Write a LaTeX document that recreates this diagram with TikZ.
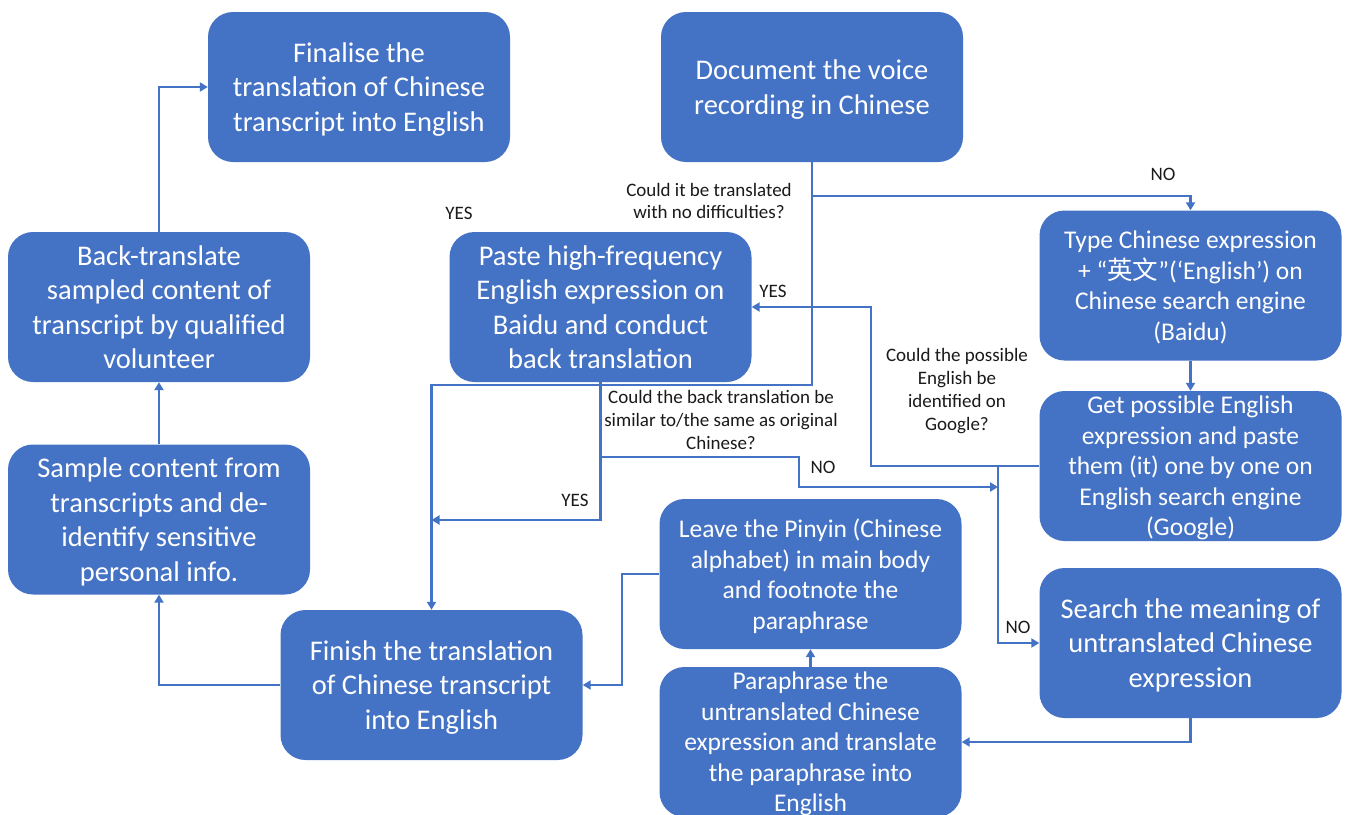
\documentclass[tikz,border=0pt]{standalone}
\usepackage{fontspec}
\setmainfont{Carlito}
\newfontfamily\cjk{Noto Sans CJK SC}
\usetikzlibrary{arrows.meta}
\definecolor{boxblue}{HTML}{4472C4}
\definecolor{labelgray}{HTML}{1A1A1A}
\tikzset{
  stepbox/.style={draw=none, fill=boxblue, rounded corners=25pt, text=white,
    minimum width=302pt, minimum height=150pt, align=center, inner sep=2pt,
    text depth=0pt, font=\fontsize{28.5}{34.5}\selectfont},
  smallbox/.style={stepbox, font=\fontsize{25.5}{30.5}\selectfont},
  flow/.style={draw=boxblue, line width=2.8pt,
    -{Triangle[length=8pt,width=9pt]}},
  qlabel/.style={text=labelgray, align=center, inner sep=0pt,
    font=\fontsize{19}{22.8}\selectfont},
}
\begin{document}
\begin{tikzpicture}[x=1pt,y=-1pt]
\clip (0,0) rectangle (1346,814);
\fill[white] (0,0) rectangle (1346,814);

% process boxes
\node[stepbox] (fin) at (359,87) {Finalise the\\translation of Chinese\\transcript into English};
\node[stepbox] (doc) at (812,87) {Document the voice\\recording in Chinese};
\node[stepbox] (back) at (159,307) {Back-translate\\sampled content of\\transcript by qualified\\volunteer};
\node[stepbox] (paste) at (600.5,307) {Paste high-frequency\\English expression on\\Baidu and conduct\\back translation};
\node[smallbox] (type) at (1190.5,285.5) {Type Chinese expression\\+ “{\cjk 英文}”(‘English’) on\\Chinese search engine\\(Baidu)};
\node[smallbox] (get) at (1190.5,466) {Get possible English\\expression and paste\\them (it) one by one on\\English search engine\\(Google)};
\node[stepbox] (samp) at (159,519.5) {Sample content from\\transcripts and de-\\identify sensitive\\personal info.};
\node[smallbox] (leave) at (810.5,574) {Leave the Pinyin (Chinese\\alphabet) in main body\\and footnote the\\paraphrase};
\node[stepbox] (search) at (1190.5,643) {Search the meaning of\\untranslated Chinese\\expression};
\node[stepbox] (finish) at (431.5,685) {Finish the translation\\of Chinese transcript\\into English};
\node[smallbox] (para) at (810.5,742) {Paraphrase the\\untranslated Chinese\\expression and translate\\the paraphrase into\\English};

% bend points of the connectors
\coordinate (noA) at (812,196);
\coordinate (yesA) at (812,385);
\coordinate (yesB) at (431.5,520);
\coordinate (noB1) at (600.5,457);
\coordinate (noB2) at (799,457);
\coordinate (noB3) at (799,487);
\coordinate (noB4) at (998,487);
\coordinate (yesC) at (871,466);
\coordinate (noC) at (998,466);
\coordinate (leaveBend) at (622,574);

% connectors
\draw[flow] (back.north) |- (fin.west);
\draw[flow] (samp.north) -- (back.south);
\draw[flow] (finish.west) -| (samp.south);
\draw[flow] (doc.south) -- (yesA) -| (finish.north);
\draw[flow] (noA) -| (type.north);
\draw[flow] (type.south) -- (get.north);
\draw[flow] (paste.south) |- (yesB);
\draw[flow] (noB1) -- (noB2) -- (noB3) -- (noB4);
\draw[flow] (get.west) -- (yesC) |- (paste.east);
\draw[flow] (noC) |- (search.west);
\draw[flow] (search.south) |- (para.east);
\draw[flow] (para.north) -- (leave.south);
\draw[flow] (leave.west) -- (leaveBend) |- (finish.east);

% decision questions and answers
\node[qlabel] (q1) at (709,201) {Could it be translated\\with no difficulties?};
\node[qlabel] (q1yes) at (459,213) {YES};
\node[qlabel] (q1no) at (1163,174) {NO};
\node[qlabel] (q2) at (721,420) {Could the back translation be\\similar to/the same as original\\Chinese?};
\node[qlabel] (q2yes) at (575,500) {YES};
\node[qlabel] (q2no) at (823,467) {NO};
\node[qlabel] (q3) at (957,391) {Could the possible\\English be\\identified on\\Google?};
\node[qlabel] (q3yes) at (773,291) {YES};
\node[qlabel] (q3no) at (1018,627) {NO};
\end{tikzpicture}
\end{document}
